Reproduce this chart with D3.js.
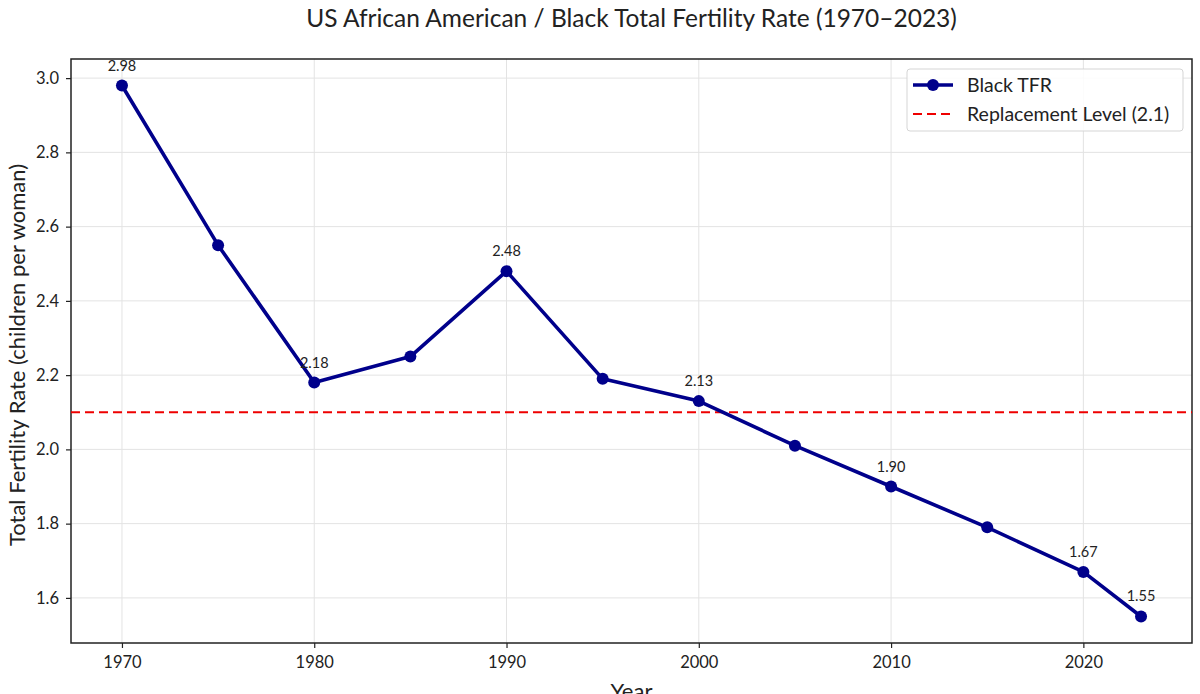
<!DOCTYPE html>
<html>
<head>
<meta charset="utf-8">
<script src="https://cdn.jsdelivr.net/npm/d3@7"></script>
<style>
	body { margin: 0; background: #fff; }
	svg text { font-family: "Lato", "Noto Sans", sans-serif; fill: #222; }
</style>
</head>
<body>
<svg id="chart" width="1200" height="694"></svg>
<script>
// data
const years = [1970, 1975, 1980, 1985, 1990, 1995, 2000, 2005, 2010, 2015, 2020, 2023]
const tfr = [2.98, 2.55, 2.18, 2.25, 2.48, 2.19, 2.13, 2.01, 1.90, 1.79, 1.67, 1.55]
const labelled_years = [1970, 1980, 1990, 2000, 2010, 2020, 2023]
const replacement = 2.1
const x_ticks = [1970, 1980, 1990, 2000, 2010, 2020]
const y_ticks = [1.6, 1.8, 2.0, 2.2, 2.4, 2.6, 2.8, 3.0]
const legend_labels = ["Black TFR", "Replacement Level (2.1)"]

const margin = { left: 71, right: 8, top: 59, bottom: 51 }
const W = 1200, H = 694
const navy = '#00008b'

const svg = d3.select('#chart')

// matplotlib style 5% padding on each side
const xpad = (d3.max(years) - d3.min(years)) * 0.05
const ypad = (d3.max(tfr) - d3.min(tfr)) * 0.05
const x = d3.scaleLinear()
	.domain([d3.min(years) - xpad, d3.max(years) + xpad])
	.range([margin.left, W - margin.right])
const y = d3.scaleLinear()
	.domain([d3.min(tfr) - ypad, d3.max(tfr) + ypad])
	.range([H - margin.bottom, margin.top])

// grid
svg.append('g').selectAll('line').data(x_ticks).join('line')
	.attr('x1', d => x(d)).attr('x2', d => x(d))
	.attr('y1', margin.top).attr('y2', H - margin.bottom)
	.attr('stroke', '#e3e3e3').attr('stroke-width', 1)
svg.append('g').selectAll('line').data(y_ticks).join('line')
	.attr('y1', d => y(d)).attr('y2', d => y(d))
	.attr('x1', margin.left).attr('x2', W - margin.right)
	.attr('stroke', '#e3e3e3').attr('stroke-width', 1)

// axes
const xAxis = svg.append('g')
	.attr('transform', `translate(0,${H - margin.bottom})`)
	.call(d3.axisBottom(x).tickValues(x_ticks).tickFormat(d3.format('d')).tickSize(5).tickPadding(8))
const yAxis = svg.append('g')
	.attr('transform', `translate(${margin.left},0)`)
	.call(d3.axisLeft(y).tickValues(y_ticks).tickFormat(d3.format('.1f')).tickSize(5).tickPadding(7))
for (let a of [xAxis, yAxis]) {
	a.select('.domain').remove()
	a.selectAll('.tick line').attr('stroke', '#222').attr('stroke-width', 1.2)
	a.selectAll('.tick text').attr('font-size', 16.5).attr('font-family', null)
}

// frame
svg.append('rect')
	.attr('x', margin.left).attr('y', margin.top)
	.attr('width', W - margin.right - margin.left)
	.attr('height', H - margin.bottom - margin.top)
	.attr('fill', 'none').attr('stroke', '#222').attr('stroke-width', 1.5)

// replacement line
svg.append('line')
	.attr('x1', margin.left).attr('x2', W - margin.right)
	.attr('y1', y(replacement)).attr('y2', y(replacement))
	.attr('stroke', '#ee0000').attr('stroke-width', 2.2)
	.attr('stroke-dasharray', '9,5')

// series
const pts = years.map((yr, i) => ({ year: yr, v: tfr[i] }))
svg.append('path')
	.datum(pts)
	.attr('fill', 'none')
	.attr('stroke', navy).attr('stroke-width', 3.6)
	.attr('stroke-linejoin', 'round')
	.attr('d', d3.line().x(d => x(d.year)).y(d => y(d.v)))
svg.append('g').selectAll('circle').data(pts).join('circle')
	.attr('cx', d => x(d.year)).attr('cy', d => y(d.v))
	.attr('r', 6).attr('fill', navy)

// value labels
svg.append('g').selectAll('text')
	.data(pts.filter(d => labelled_years.includes(d.year)))
	.join('text')
	.attr('x', d => x(d.year)).attr('y', d => y(d.v) - 15)
	.attr('text-anchor', 'middle').attr('font-size', 14.5)
	.text(d => d.v.toFixed(2))

// title and axis labels
svg.append('text')
	.attr('x', (margin.left + W - margin.right) / 2).attr('y', 27)
	.attr('text-anchor', 'middle').attr('font-size', 24.5)
	.text('US African American / Black Total Fertility Rate (1970–2023)')
svg.append('text')
	.attr('transform', `translate(25,${(margin.top + H - margin.bottom) / 2 + 4}) rotate(-90)`)
	.attr('text-anchor', 'middle').attr('font-size', 22)
	.text('Total Fertility Rate (children per woman)')
svg.append('text')
	.attr('x', (margin.left + W - margin.right) / 2).attr('y', 699)
	.attr('text-anchor', 'middle').attr('font-size', 22)
	.text('Year')

// legend
const lg = svg.append('g').attr('transform', 'translate(907,69)')
lg.append('rect')
	.attr('width', 276).attr('height', 62).attr('rx', 3)
	.attr('fill', 'white').attr('fill-opacity', 0.85)
	.attr('stroke', '#d5d5d5')
lg.append('line').attr('x1', 6).attr('x2', 46).attr('y1', 16).attr('y2', 16)
	.attr('stroke', navy).attr('stroke-width', 3.6)
lg.append('circle').attr('cx', 26).attr('cy', 16).attr('r', 6).attr('fill', navy)
lg.append('line').attr('x1', 6).attr('x2', 46).attr('y1', 45).attr('y2', 45)
	.attr('stroke', '#ee0000').attr('stroke-width', 2.2).attr('stroke-dasharray', '9,5')
lg.selectAll('text.lbl').data(legend_labels).join('text')
	.attr('class', 'lbl')
	.attr('x', 60).attr('y', (d, i) => 16 + i * 29)
	.attr('dy', '0.35em').attr('font-size', 19.5)
	.text(d => d)
</script>
</body>
</html>
